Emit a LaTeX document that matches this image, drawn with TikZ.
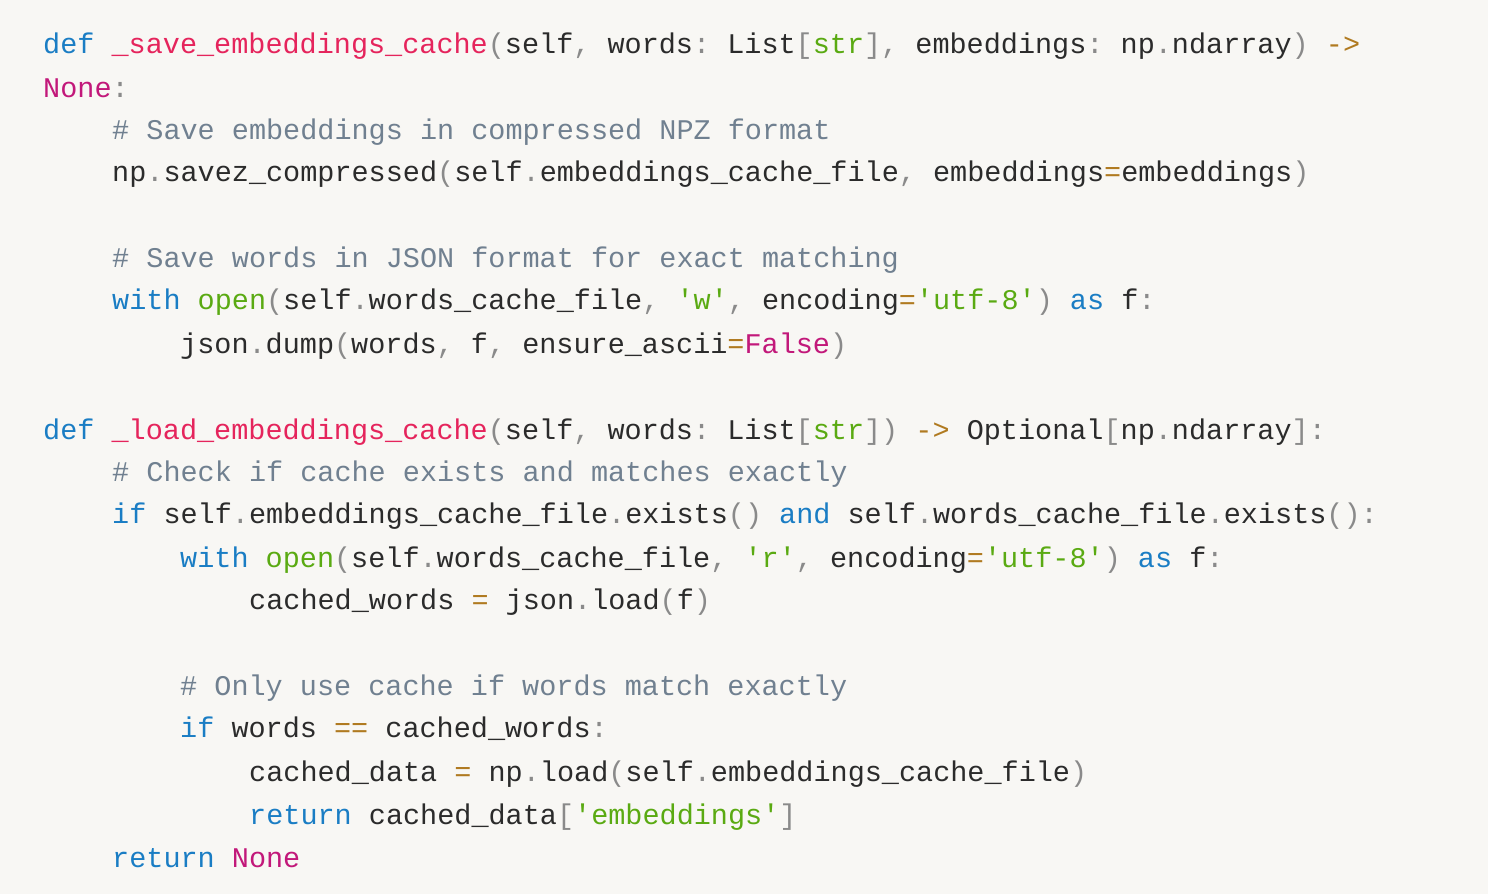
\documentclass[tikz,border=0pt]{standalone}
\usepackage{fontspec}
\setmonofont{Liberation Mono}
\definecolor{bg}{HTML}{F8F7F4}
\definecolor{kwc}{HTML}{1A7DC4}
\definecolor{fnc}{HTML}{E5245C}
\definecolor{cnc}{HTML}{C2187A}
\definecolor{stc}{HTML}{5AAA12}
\definecolor{cmc}{HTML}{708090}
\definecolor{puc}{HTML}{8A8A8A}
\definecolor{txc}{HTML}{2B2B2B}
\definecolor{opc}{HTML}{B07A20}
\newcommand\kw[1]{\textcolor{kwc}{#1}}
\newcommand\fn[1]{\textcolor{fnc}{#1}}
\newcommand\cn[1]{\textcolor{cnc}{#1}}
\newcommand\st[1]{\textcolor{stc}{#1}}
\newcommand\cm[1]{\textcolor{cmc}{#1}}
\newcommand\pu[1]{\textcolor{puc}{#1}}
\newcommand\op[1]{\textcolor{opc}{#1}}
\newcommand\q{\textquotesingle}
\begin{document}
\begin{tikzpicture}[x=1pt,y=-1pt,
  cl/.style={anchor=base west,inner sep=0pt,font=\ttfamily\fontsize{28.5}{30}\selectfont,text=txc}]
\fill[bg] (0,0) rectangle (1488,894);
\useasboundingbox (0,0) rectangle (1488,894);
\node[cl] (l1) at (43,53) {\kw{def} \fn{\_save\_embeddings\_cache}\pu{(}self\pu{,} words\pu{:} List\pu{[}\st{str}\pu{],} embeddings\pu{:} np\pu{.}ndarray\pu{)} \op{->}};
\node[cl] (l2) at (43,97) {\cn{None}\pu{:}};
\node[cl] (l3) at (112,139) {\cm{\# Save embeddings in compressed NPZ format}};
\node[cl] (l4) at (112,181) {np\pu{.}savez\_compressed\pu{(}self\pu{.}embeddings\_cache\_file\pu{,} embeddings\op{=}embeddings\pu{)}};
\node[cl] (l5) at (112,267) {\cm{\# Save words in JSON format for exact matching}};
\node[cl] (l6) at (112,309) {\kw{with} \st{open}\pu{(}self\pu{.}words\_cache\_file\pu{,} \st{\q w\q}\pu{,} encoding\op{=}\st{\q utf-8\q}\pu{)} \kw{as} f\pu{:}};
\node[cl] (l7) at (180,353) {json\pu{.}dump\pu{(}words\pu{,} f\pu{,} ensure\_ascii\op{=}\cn{False}\pu{)}};
\node[cl] (l8) at (43,439) {\kw{def} \fn{\_load\_embeddings\_cache}\pu{(}self\pu{,} words\pu{:} List\pu{[}\st{str}\pu{])} \op{->} Optional\pu{[}np\pu{.}ndarray\pu{]:}};
\node[cl] (l9) at (112,481) {\cm{\# Check if cache exists and matches exactly}};
\node[cl] (l10) at (112,523) {\kw{if} self\pu{.}embeddings\_cache\_file\pu{.}exists\pu{()} \kw{and} self\pu{.}words\_cache\_file\pu{.}exists\pu{():}};
\node[cl] (l11) at (180,567) {\kw{with} \st{open}\pu{(}self\pu{.}words\_cache\_file\pu{,} \st{\q r\q}\pu{,} encoding\op{=}\st{\q utf-8\q}\pu{)} \kw{as} f\pu{:}};
\node[cl] (l12) at (249,609) {cached\_words \op{=} json\pu{.}load\pu{(}f\pu{)}};
\node[cl] (l13) at (180,695) {\cm{\# Only use cache if words match exactly}};
\node[cl] (l14) at (180,737) {\kw{if} words \op{==} cached\_words\pu{:}};
\node[cl] (l15) at (249,781) {cached\_data \op{=} np\pu{.}load\pu{(}self\pu{.}embeddings\_cache\_file\pu{)}};
\node[cl] (l16) at (249,824) {\kw{return} cached\_data\pu{[}\st{\q embeddings\q}\pu{]}};
\node[cl] (l17) at (112,867) {\kw{return} \cn{None}};
\end{tikzpicture}
\end{document}
